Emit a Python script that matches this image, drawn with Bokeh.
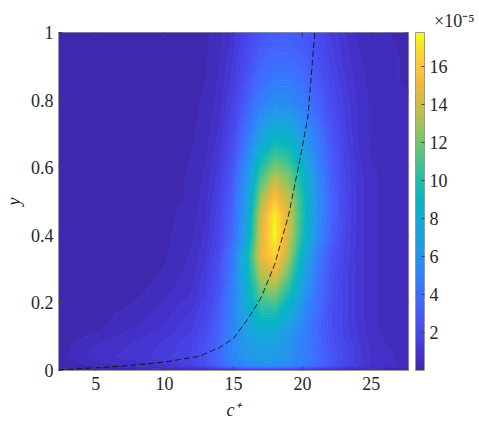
import numpy as np
from bokeh.plotting import figure
from bokeh.models import Range1d, FixedTicker, ColorBar, LinearColorMapper
from bokeh.embed import file_html
from bokeh.resources import INLINE

# ---- data (spectrum values in units of 1e-5) ----
c_plus = [2.3, 5, 8, 10, 12, 13, 14, 15, 16, 17, 18, 19, 20, 21, 22, 23, 24, 25, 27.7]
y_pos = [0.0, 0.015, 0.04, 0.08, 0.12, 0.17, 0.22, 0.28, 0.34, 0.40, 0.46, 0.52,
         0.58, 0.64, 0.70, 0.78, 0.86, 0.93, 1.0]
spec_y000 = [0.0, 0.0, 0.0, 0.0, 0.0, 0.0, 0.0, 0.0, 0.0, 0.0, 0.0, 0.0, 0.0, 0.0, 0.0, 0.0, 0.0, 0.0, 0.0]
spec_y015 = [0.3, 0.5, 0.8, 1.1, 1.7, 2.4, 3.4, 4.8, 5.5, 5.8, 5.8, 5.5, 4.8, 3.8, 2.8, 2.0, 1.4, 1.0, 0.6]
spec_y040 = [0.3, 0.9, 1.2, 1.5, 2.0, 2.7, 3.8, 5.4, 6.4, 6.8, 6.6, 6.0, 5.0, 4.0, 3.0, 2.2, 1.5, 1.0, 0.6]
spec_y080 = [0.3, 0.7, 1.1, 1.4, 1.9, 2.6, 3.7, 5.4, 6.7, 7.3, 7.0, 6.2, 5.0, 3.8, 2.8, 2.0, 1.4, 0.9, 0.5]
spec_y120 = [0.3, 0.4, 0.8, 1.1, 1.6, 2.3, 3.5, 5.3, 7.2, 8.2, 8.0, 6.8, 5.2, 3.8, 2.6, 1.8, 1.3, 0.8, 0.5]
spec_y170 = [0.3, 0.3, 0.6, 0.9, 1.4, 2.0, 3.2, 5.2, 7.7, 9.8, 9.9, 8.0, 5.8, 4.0, 2.6, 1.8, 1.2, 0.8, 0.5]
spec_y220 = [0.3, 0.3, 0.4, 0.7, 1.1, 1.7, 2.9, 5.0, 8.2, 11.5, 12.0, 9.5, 6.5, 4.2, 2.7, 1.8, 1.2, 0.8, 0.5]
spec_y280 = [0.3, 0.3, 0.3, 0.5, 0.9, 1.5, 2.6, 4.8, 8.7, 13.3, 14.5, 11.5, 7.5, 4.6, 2.8, 1.8, 1.2, 0.8, 0.5]
spec_y340 = [0.3, 0.3, 0.3, 0.4, 0.8, 1.3, 2.4, 4.6, 9.0, 14.8, 16.7, 13.2, 8.5, 5.0, 3.0, 1.9, 1.2, 0.8, 0.5]
spec_y400 = [0.3, 0.3, 0.3, 0.35, 0.7, 1.1, 2.0, 3.8, 7.5, 14.4, 17.8, 14.0, 9.8, 6.0, 3.5, 2.0, 1.2, 0.8, 0.5]
spec_y460 = [0.3, 0.3, 0.3, 0.35, 0.6, 1.0, 1.9, 3.6, 7.2, 14.0, 17.5, 14.2, 10.0, 6.2, 3.6, 2.1, 1.2, 0.8, 0.5]
spec_y520 = [0.3, 0.3, 0.3, 0.3, 0.5, 0.9, 1.7, 3.4, 6.8, 12.5, 15.5, 13.5, 9.8, 6.2, 3.6, 2.1, 1.2, 0.8, 0.5]
spec_y580 = [0.3, 0.3, 0.3, 0.3, 0.5, 0.8, 1.5, 3.0, 6.0, 10.8, 13.2, 12.0, 9.0, 5.8, 3.4, 2.0, 1.2, 0.8, 0.5]
spec_y640 = [0.3, 0.3, 0.3, 0.3, 0.45, 0.7, 1.3, 2.6, 5.2, 8.8, 10.8, 10.0, 7.8, 5.2, 3.2, 1.9, 1.1, 0.7, 0.5]
spec_y700 = [0.3, 0.3, 0.3, 0.3, 0.4, 0.6, 1.1, 2.2, 4.3, 7.0, 8.5, 8.2, 6.6, 4.6, 2.9, 1.8, 1.0, 0.7, 0.5]
spec_y780 = [0.3, 0.3, 0.3, 0.3, 0.4, 0.5, 0.9, 1.8, 3.4, 5.2, 6.0, 5.9, 5.0, 3.7, 2.5, 1.6, 1.0, 0.7, 0.5]
spec_y860 = [0.3, 0.3, 0.3, 0.3, 0.35, 0.45, 0.8, 1.5, 2.7, 4.0, 4.6, 4.6, 4.0, 3.0, 2.1, 1.4, 0.9, 0.6, 0.4]
spec_y930 = [0.3, 0.3, 0.3, 0.3, 0.35, 0.4, 0.7, 1.3, 2.3, 3.3, 3.8, 3.8, 3.4, 2.6, 1.8, 1.2, 0.8, 0.6, 0.4]
spec_y1000 = [0.3, 0.3, 0.3, 0.3, 0.3, 0.4, 0.6, 1.1, 2.0, 2.9, 3.3, 3.3, 3.0, 2.3, 1.6, 1.1, 0.7, 0.5, 0.4]

# mean-velocity profile (dashed line)
line_c = [2.3, 5, 7.5, 10, 12.5, 14, 15, 16, 17, 18, 19, 19.8, 20.4, 20.9]
line_y = [0.002, 0.008, 0.015, 0.025, 0.042, 0.068, 0.095, 0.15, 0.215, 0.315, 0.46, 0.62, 0.75, 1.0]

x_ticks = [5, 10, 15, 20, 25]
y_ticks = [0, 0.2, 0.4, 0.6, 0.8, 1]
cbar_ticks = [2, 4, 6, 8, 10, 12, 14, 16]
x_lo, x_hi = 2.3, 27.7
y_lo, y_hi = 0.0, 1.0
c_low, c_high = 0.0, 17.8

Z = np.array([spec_y000, spec_y015, spec_y040, spec_y080, spec_y120, spec_y170, spec_y220,
              spec_y280, spec_y340, spec_y400, spec_y460, spec_y520, spec_y580, spec_y640,
              spec_y700, spec_y780, spec_y860, spec_y930, spec_y1000])

# ---- parula-like palette ----
stops = [(0.00, "#3E26A8"), (0.05, "#4433CD"), (0.10, "#4744E8"), (0.15, "#4754F6"),
         (0.20, "#4367FD"), (0.25, "#3579FD"), (0.30, "#2C88F6"), (0.35, "#2496EB"),
         (0.40, "#1BA2E0"), (0.45, "#0EADD2"), (0.50, "#05B5C1"), (0.55, "#1CBCAE"),
         (0.60, "#3AC197"), (0.65, "#5FC47E"), (0.70, "#8AC465"), (0.75, "#B3C150"),
         (0.80, "#D6BA43"), (0.85, "#F3B83C"), (0.90, "#FEC736"), (0.95, "#F6DE28"),
         (1.00, "#F9FB15")]
st = np.array([s[0] for s in stops])
rgb = np.array([[int(h[i:i + 2], 16) for i in (1, 3, 5)] for _, h in stops], dtype=float)

def cmap(t):
    t = min(max(t, 0.0), 1.0)
    return "#%02x%02x%02x" % tuple(int(round(np.interp(t, st, rgb[:, k]))) for k in range(3))

parula = [cmap(i / 255) for i in range(256)]

step = 0.3
levels = [-0.01] + [0.15 + step * k for k in range(0, 60)]
band_colors = [cmap(max(lv, 0) / (c_high - c_low)) for lv in levels[:-1]]
line_colors = [cmap(max(lv, 0) / (c_high - c_low)) for lv in levels]

FONT = "Liberation Serif"
FS = "18px"
TXT = "#262626"
AX = "#999999"
TK = "#444444"

p = figure(frame_width=350, frame_height=338,
           x_range=Range1d(x_lo, x_hi), y_range=Range1d(y_lo, y_hi),
           output_backend="svg", toolbar_location=None,
           min_border_left=51, min_border_top=32, min_border_bottom=55, min_border_right=70,
           background_fill_color="white", outline_line_color=AX,
           title="×10⁻⁵", title_location="above")
p.title.align = "right"
p.title.offset = -66
p.title.text_font = FONT
p.title.text_font_size = FS
p.title.text_font_style = "normal"
p.title.text_color = TXT
p.title.standoff = 4
p.grid.visible = False

p.contour(x=c_plus, y=y_pos, z=Z, levels=levels, fill_color=band_colors,
          line_color=line_colors, line_width=1.2)
p.line(line_c, line_y, line_color="#111111", line_width=1, line_dash="6 3", line_alpha=0.85)

# inward ticks on the top and right edges of the box
p.scatter(x=x_ticks, y=[y_hi] * len(x_ticks), marker="dash", angle=np.pi / 2, size=8,
          line_color=TK, line_width=1)
p.scatter(x=[x_hi] * len(y_ticks), y=y_ticks, marker="dash", size=8,
          line_color=TK, line_width=1)

p.xaxis.ticker = FixedTicker(ticks=x_ticks)
p.yaxis.ticker = FixedTicker(ticks=y_ticks)
p.xaxis.major_label_overrides = {5: "5", 10: "10", 15: "15", 20: "20", 25: "25"}
p.yaxis.major_label_overrides = {0: "0", 0.2: "0.2", 0.4: "0.4", 0.6: "0.6", 0.8: "0.8", 1: "1"}
for ax in (p.xaxis[0], p.yaxis[0]):
    ax.axis_line_color = AX
    ax.major_tick_line_color = TK
    ax.major_tick_in = 4
    ax.major_tick_out = 0
    ax.minor_tick_line_color = None
    ax.major_label_text_font = FONT
    ax.major_label_text_font_size = FS
    ax.major_label_text_color = TXT
    ax.axis_label_text_font = FONT
    ax.axis_label_text_font_size = FS
    ax.axis_label_text_font_style = "italic"
    ax.axis_label_text_color = TXT
p.xaxis.major_label_standoff = 6
p.yaxis.major_label_standoff = 5
p.xaxis.axis_label = "c⁺"
p.yaxis.axis_label = "y"
p.xaxis.axis_label_standoff = 7
p.yaxis.axis_label_standoff = 4

mapper = LinearColorMapper(palette=parula, low=c_low, high=c_high)
cb = ColorBar(color_mapper=mapper, ticker=FixedTicker(ticks=cbar_ticks),
              width=9, height=338, margin=0, padding=0, location=(7, 0),
              label_standoff=5,
              major_tick_in=3, major_tick_out=0, major_tick_line_color=TK,
              major_label_text_font=FONT, major_label_text_font_size=FS,
              major_label_text_color=TXT,
              bar_line_color=AX, border_line_color=None, background_fill_alpha=0)
p.add_layout(cb, "right")

open("out.html", "w").write(file_html(p, INLINE))
